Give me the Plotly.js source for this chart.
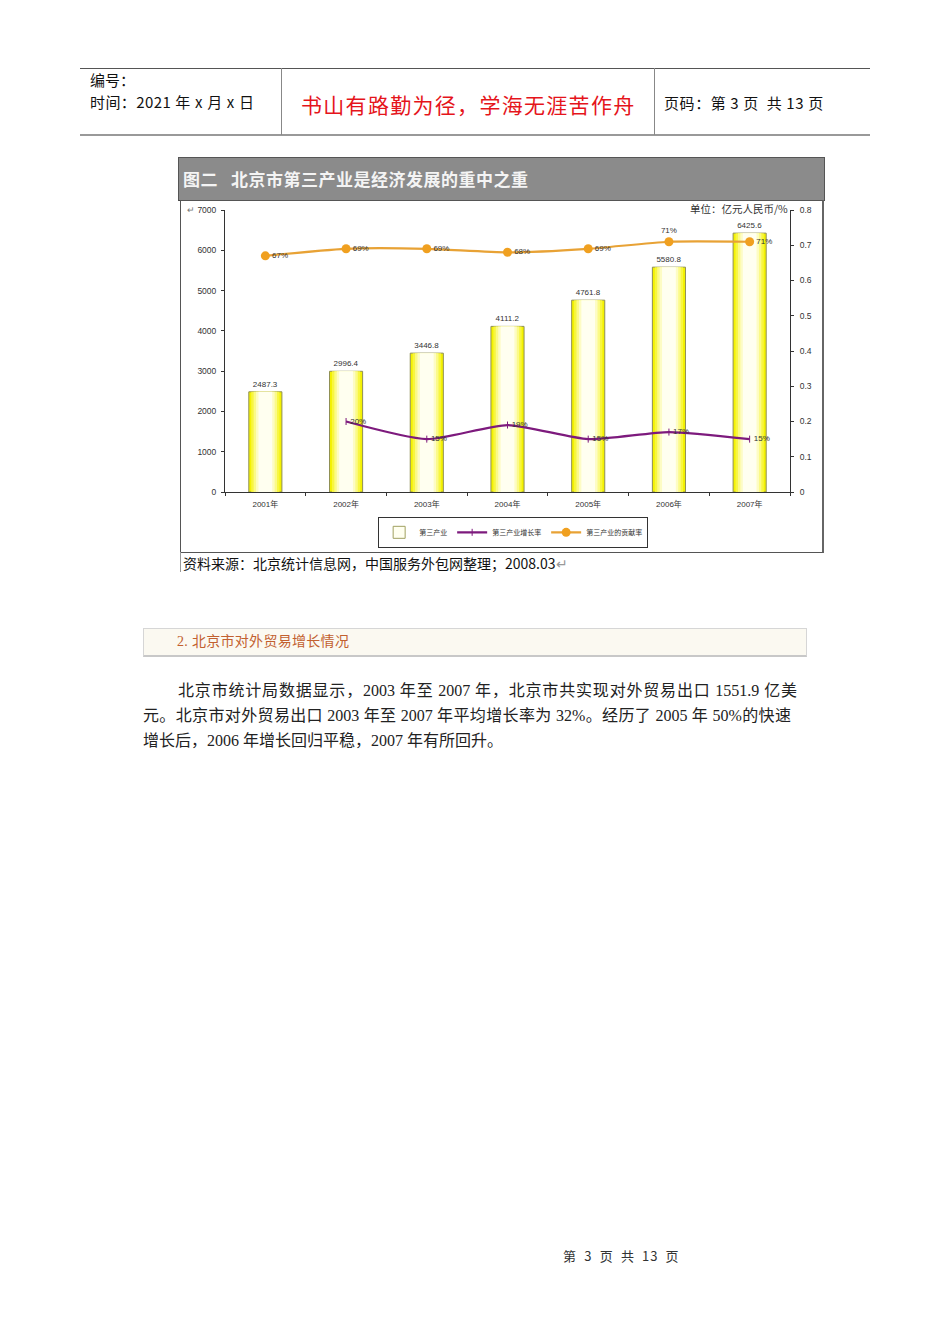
<!DOCTYPE html>
<html>
<head>
<meta charset="utf-8">
<script src="https://cdn.plot.ly/plotly-3.0.1.min.js"></script>
<style>
  html, body { margin:0; padding:0; background:#fff; }
  body { width:950px; height:1344px; position:relative; overflow:hidden;
         font-family:"Noto Sans CJK SC","Noto Sans",sans-serif; color:#222; }
  .abs { position:absolute; white-space:nowrap; }
  .hline { position:absolute; height:0; }
  .vline { position:absolute; width:0; }
  .para { position:absolute; font-family:"Liberation Serif","Noto Sans CJK SC",serif;
          font-size:16px; color:#222; line-height:20px; white-space:nowrap; }
  .just { text-align:justify; text-align-last:justify; white-space:normal; }
</style>
</head>
<body>
<!-- page header -->
<div class="hline" style="left:80px; top:68px; width:790px; border-top:1px solid #555;"></div>
<div class="hline" style="left:80px; top:134px; width:790px; border-top:2px solid #999;"></div>
<div class="vline" style="left:281px; top:68px; height:67px; border-left:1px solid #888;"></div>
<div class="vline" style="left:654px; top:68px; height:67px; border-left:1px solid #888;"></div>
<div class="abs" style="left:90px; top:69px; font-size:15px; line-height:21px; color:#111;">编号：</div>
<div class="abs" style="left:90px; top:91px; font-size:15px; line-height:21px; color:#111; letter-spacing:0.4px; word-spacing:0.5px;">时间：2021 年 x 月 x 日</div>
<div class="abs" style="left:301px; top:90px; font-size:21px; line-height:28px; color:#e5141b; letter-spacing:1.3px;">书山有路勤为径，学海无涯苦作舟</div>
<div class="abs" style="left:664px; top:93px; font-size:15px; line-height:20px; color:#111; letter-spacing:0.6px;">页码：第 3 页&nbsp;&nbsp;共 13 页</div>

<!-- chart frame -->
<div class="abs" style="left:178px; top:157px; width:645px; height:42px; background:#8b8b8b; border:1px solid #555; border-bottom:1px solid #444;"></div>
<div class="abs" style="left:183px; top:167px; font-size:17px; line-height:24px; font-weight:bold; color:#f4f4f4; letter-spacing:0.5px;">图二&nbsp;&nbsp;&nbsp;北京市第三产业是经济发展的重中之重</div>
<div class="abs" style="left:180px; top:200px; width:641px; height:351px; border:1px solid #555; border-right:2px solid #666;"></div>
<div class="vline" style="left:180px; top:552px; height:20px; border-left:1px solid #999;"></div>
<div class="abs" style="left:183px; top:553px; font-size:14px; line-height:20px; color:#111;">资料来源：北京统计信息网，中国服务外包网整理；2008.03<span style="color:#999">↵</span></div>

<div id="chart" style="position:absolute; left:180px; top:200px; width:643px; height:352px;"></div>

<!-- section heading -->
<div class="abs" style="left:143px; top:628px; width:662px; height:26px; background:#fbf9f1; border:1px solid #d6d6d6; border-bottom:2px solid #c8c8c8;"></div>
<div class="abs" style="left:177px; top:632px; font-size:14px; line-height:20px; color:#c2602f; font-family:'Liberation Serif','Noto Sans CJK SC',serif; letter-spacing:0.3px;">2. 北京市对外贸易增长情况</div>

<!-- paragraph -->
<div class="para just" style="left:178px; top:681px; width:619px; height:20px; overflow:hidden;">北京市统计局数据显示，2003 年至 2007 年，北京市共实现对外贸易出口 1551.9 亿美</div>
<div class="para just" style="left:143px; top:706px; width:648px; height:20px; overflow:hidden;">元。北京市对外贸易出口 2003 年至 2007 年平均增长率为 32%。经历了 2005 年 50%的快速</div>
<div class="para" style="left:143px; top:731px;">增长后，2006 年增长回归平稳，2007 年有所回升。</div>

<!-- footer -->
<div class="abs" style="left:563px; top:1247px; font-size:13px; line-height:18px; color:#333; letter-spacing:0.8px;">第&nbsp;&nbsp;3&nbsp;&nbsp;页&nbsp;&nbsp;共&nbsp;&nbsp;13&nbsp;&nbsp;页</div>

<script>
// ---- data ----
const years = ['2001年', '2002年', '2003年', '2004年', '2005年', '2006年', '2007年'];
const tertiaryValue = [2487.3, 2996.4, 3446.8, 4111.2, 4761.8, 5580.8, 6425.6];
const tertiaryLabels = ['2487.3', '2996.4', '3446.8', '4111.2', '4761.8', '5580.8', '6425.6'];
const growthYears = ['2002年', '2003年', '2004年', '2005年', '2006年', '2007年'];
const growthRate = [0.20, 0.15, 0.19, 0.15, 0.17, 0.15];
const growthLabels = ['20%', '15%', '19%', '15%', '17%', '15%'];
const contributionRate = [0.67, 0.69, 0.69, 0.68, 0.69, 0.71, 0.71];
const contributionLabels = ['67%', '69%', '69%', '68%', '69%', '71%', '71%'];
const seriesNames = ['第三产业', '第三产业增长率', '第三产业的贡献率'];
const leftTicks = [0, 1000, 2000, 3000, 4000, 5000, 6000, 7000];
const rightTicks = [0, 0.1, 0.2, 0.3, 0.4, 0.5, 0.6, 0.7, 0.8];

const fontFam = 'Liberation Sans, Noto Sans CJK SC, sans-serif';
const smallFont = {family: fontFam, size: 8.5, color: '#333'};

// gradient look for bars: layered overlay bars (yellow edges -> white center)
const layers = [
  {w: 0.41, c: '#f4f200', line: {color: '#8f8f55', width: 1}},
  {w: 0.35, c: '#f8f640', line: {width: 0}},
  {w: 0.29, c: '#fbfa88', line: {width: 0}},
  {w: 0.23, c: '#fdfcc4', line: {width: 0}},
  {w: 0.17, c: '#fffff0', line: {width: 0}}
];
const traces = [];
layers.forEach((L, i) => {
  traces.push({
    type: 'bar', x: years, y: tertiaryValue, name: seriesNames[0],
    width: years.map(() => L.w),
    marker: {color: L.c, line: L.line},
    showlegend: false, hoverinfo: 'skip',
    text: i === 0 ? tertiaryLabels : undefined,
    textposition: i === 0 ? 'outside' : 'none',
    textfont: {family: fontFam, size: 8, color: '#333'},
    cliponaxis: false
  });
});
// legend entry for bars (white-ish box with olive border)
traces.push({
  type: 'bar', x: [years[0]], y: [null], name: seriesNames[0],
  marker: {color: '#fffff0', line: {color: '#a0a060', width: 1}},
  showlegend: true, legendrank: 1, hoverinfo: 'skip'
});
traces.push({
  type: 'scatter', mode: 'lines+markers+text', x: growthYears, y: growthRate, yaxis: 'y2',
  name: seriesNames[1], legendrank: 2,
  line: {color: '#7d1a7d', width: 2.2, shape: 'spline', smoothing: 0.6},
  marker: {symbol: 'line-ns-open', size: 5, color: '#7d1a7d', line: {color: '#7d1a7d', width: 1}},
  text: growthLabels, textposition: 'middle right',
  textfont: {family: fontFam, size: 8, color: '#333'}, cliponaxis: false
});
traces.push({
  type: 'scatter', mode: 'lines+markers+text', x: years, y: contributionRate, yaxis: 'y2',
  name: seriesNames[2], legendrank: 3,
  line: {color: '#e8a235', width: 2.2, shape: 'spline', smoothing: 0.6},
  marker: {symbol: 'circle', size: 9, color: '#f0a020'},
  text: contributionLabels,
  textposition: ['middle right', 'middle right', 'middle right', 'middle right', 'middle right', 'top center', 'middle right'],
  textfont: {family: fontFam, size: 8, color: '#333'}, cliponaxis: false
});

const layout = {
  width: 643, height: 352,
  margin: {l: 45, r: 33, t: 10, b: 60, pad: 0, autoexpand: false},
  paper_bgcolor: 'rgba(0,0,0,0)', plot_bgcolor: '#fff',
  barmode: 'overlay',
  showlegend: true,
  font: {family: fontFam, size: 8, color: '#333'},
  xaxis: {
    type: 'category', showgrid: false, zeroline: false,
    showline: true, linecolor: '#333', linewidth: 1,
    ticks: 'outside', tickson: 'boundaries', ticklen: 3, tickcolor: '#333',
    ticklabelstandoff: 4,
    tickfont: {family: fontFam, size: 8, color: '#333'}
  },
  yaxis: {
    range: [0, 7000], tickvals: leftTicks, showgrid: false, zeroline: false,
    showline: true, linecolor: '#333', linewidth: 1,
    ticks: 'outside', ticklen: 3, tickcolor: '#333', ticklabelstandoff: 3,
    tickfont: smallFont
  },
  yaxis2: {
    overlaying: 'y', side: 'right', range: [0, 0.8], tickvals: rightTicks,
    showgrid: false, zeroline: false, showline: true, linecolor: '#333', linewidth: 1,
    ticks: 'outside', ticklen: 3, tickcolor: '#333', ticklabelstandoff: 4,
    tickfont: smallFont
  },
  legend: {
    orientation: 'h', x: 0.51, xanchor: 'center', y: -0.088, yanchor: 'top',
    bgcolor: '#fff', bordercolor: '#333', borderwidth: 1,
    font: {family: 'Noto Sans CJK SC, sans-serif', size: 7, color: '#333'},
    itemwidth: 30, traceorder: 'normal', tracegroupgap: 0
  },
  annotations: [
    {xref: 'paper', yref: 'paper', x: 1.0, y: 1.005, xanchor: 'right', yanchor: 'middle',
     text: '单位：亿元人民币/%', showarrow: false,
     font: {family: 'Noto Sans CJK SC, sans-serif', size: 10.5, color: '#333'}},
    {xref: 'paper', yref: 'paper', x: -0.07, y: 1.0, xanchor: 'left', yanchor: 'middle',
     text: '↵', showarrow: false, font: {family: fontFam, size: 9, color: '#777'}}
  ]
};

Plotly.newPlot('chart', traces, layout, {staticPlot: true, displayModeBar: false});
</script>
</body>
</html>
